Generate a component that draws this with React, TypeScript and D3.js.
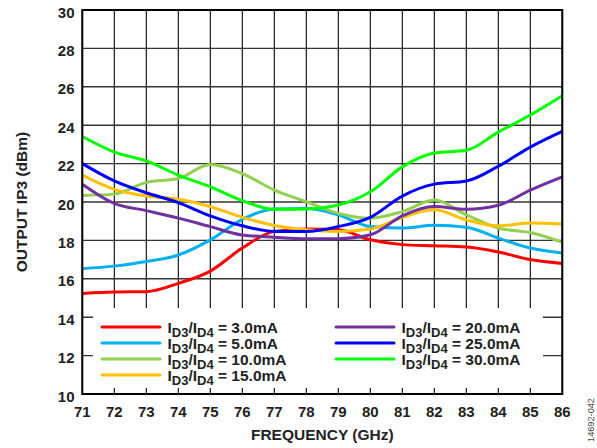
import React from "react";
import * as d3 from "d3";

const freqs = [71, 72, 73, 74, 75, 76, 77, 78, 79, 80, 81, 82, 83, 84, 85, 86];
const s3_0 = [15.24, 15.31, 15.33, 15.76, 16.4, 17.6, 18.47, 18.6, 18.55, 18.03, 17.78, 17.72, 17.66, 17.4, 17.0, 16.8];
const s5_0 = [16.53, 16.66, 16.9, 17.24, 18.03, 19.1, 19.64, 19.66, 19.33, 18.72, 18.64, 18.79, 18.69, 18.12, 17.6, 17.34];
const s10_0 = [20.34, 20.41, 21.02, 21.22, 21.95, 21.48, 20.62, 20.02, 19.41, 19.16, 19.5, 20.1, 19.33, 18.64, 18.41, 17.9];
const s15_0 = [21.4, 20.66, 20.31, 20.14, 19.76, 19.2, 18.78, 18.55, 18.47, 18.59, 19.2, 19.59, 19.07, 18.76, 18.9, 18.86];
const s20_0 = [20.93, 19.93, 19.55, 19.16, 18.72, 18.28, 18.17, 18.09, 18.09, 18.29, 19.28, 19.76, 19.62, 19.83, 20.62, 21.31];
const s25_0 = [22.0, 21.1, 20.48, 19.97, 19.28, 18.76, 18.47, 18.47, 18.72, 19.2, 20.31, 20.93, 21.09, 21.86, 22.86, 23.68];
const s30_0 = [23.41, 22.6, 22.14, 21.4, 20.79, 20.07, 19.62, 19.64, 19.84, 20.53, 21.83, 22.55, 22.69, 23.64, 24.53, 25.54];

const seriesLabels = ["3.0mA", "5.0mA", "10.0mA", "15.0mA", "20.0mA", "25.0mA", "30.0mA"];
const seriesValues = [s3_0, s5_0, s10_0, s15_0, s20_0, s25_0, s30_0];
const seriesColors = ["#ff0000", "#00b0f0", "#92d050", "#ffc000", "#7030a0", "#0000ff", "#00ff00"];

const xTicks = freqs;
const yTicks = [10, 12, 14, 16, 18, 20, 22, 24, 26, 28, 30];

const FONT = "Arial, 'Liberation Sans', sans-serif";

export default function App() {
  const W = 597, H = 448;
  const left = 82.3, right = 562.3, top = 10, bottom = 394;
  const x = d3.scaleLinear().domain([71, 86]).range([left, right]);
  const y = d3.scaleLinear().domain([10, 30]).range([bottom, top]);

  const line = d3
    .line<[number, number]>()
    .x((d) => x(d[0]))
    .y((d) => y(d[1]))
    .curve(d3.curveMonotoneX);

  const legendRect = { x0: 93, x1: 543, y0: 308, y1: 388 };

  const legendItem = (label: string, color: string, lx: number, ly: number, key: string) => (
    <g key={key}>
      <line x1={lx} x2={lx + 58} y1={ly} y2={ly} stroke={color} strokeWidth={3} strokeLinecap="round" />
      <text x={lx + 65.5} y={ly + 6} fontFamily={FONT} fontWeight="bold" fontSize={15.5} fill="#222">
        <tspan>I</tspan>
        <tspan fontSize={13} dy={4}>D3</tspan>
        <tspan dy={-4}>/I</tspan>
        <tspan fontSize={13} dy={4}>D4</tspan>
        <tspan dy={-4}>{" = " + label}</tspan>
      </text>
    </g>
  );

  return (
    <svg width={W} height={H} style={{ position: "absolute", left: 0, top: 0, background: "#fff" }}>
      <rect x={0} y={0} width={W} height={H} fill="#fff" />
      {/* grid */}
      {yTicks.map((t) => (
        <line key={"gy" + t} x1={left} x2={right} y1={y(t)} y2={y(t)} stroke="#333" strokeWidth={1.4} />
      ))}
      {xTicks.map((t) => (
        <line key={"gx" + t} x1={x(t)} x2={x(t)} y1={top} y2={bottom} stroke="#000" strokeWidth={1.1} />
      ))}
      {/* legend background */}
      <rect
        x={legendRect.x0}
        y={legendRect.y0}
        width={legendRect.x1 - legendRect.x0}
        height={legendRect.y1 - legendRect.y0}
        fill="#fff"
      />
      {/* series */}
      {seriesValues.map((vals, i) => (
        <path
          key={"s" + i}
          d={line(freqs.map((f, j) => [f, vals[j]] as [number, number])) || ""}
          fill="none"
          stroke={seriesColors[i]}
          strokeWidth={3}
          strokeLinejoin="round"
        />
      ))}
      {/* frame */}
      <rect x={left} y={top} width={right - left} height={bottom - top} fill="none" stroke="#000" strokeWidth={2} />
      {/* y tick labels */}
      {yTicks.map((t) => (
        <text
          key={"ly" + t}
          x={74.5}
          y={y(t) + 7.5}
          textAnchor="end"
          fontFamily={FONT}
          fontWeight="bold"
          fontSize={15}
          fill="#222"
        >
          {t}
        </text>
      ))}
      {/* x tick labels */}
      {xTicks.map((t) => (
        <text
          key={"lx" + t}
          x={x(t)}
          y={416.7}
          textAnchor="middle"
          fontFamily={FONT}
          fontWeight="bold"
          fontSize={15}
          fill="#222"
        >
          {t}
        </text>
      ))}
      <text
        x={(left + right) / 2}
        y={440}
        textAnchor="middle"
        fontFamily={FONT}
        fontWeight="bold"
        fontSize={15.5}
        fill="#222"
      >
        FREQUENCY (GHz)
      </text>
      <text
        transform={`translate(27, ${(top + bottom) / 2}) rotate(-90)`}
        textAnchor="middle"
        fontFamily={FONT}
        fontWeight="bold"
        fontSize={15.5}
        fill="#222"
      >
        OUTPUT IP3 (dBm)
      </text>
      {/* legend */}
      {seriesLabels.slice(0, 4).map((lab, i) =>
        legendItem(lab, seriesColors[i], 102, 327 + i * 16, "lg" + i)
      )}
      {seriesLabels.slice(4).map((lab, i) =>
        legendItem(lab, seriesColors[i + 4], 336, 327 + i * 16, "lr" + i)
      )}
      <text
        transform={`translate(594, 420) rotate(-90)`}
        textAnchor="middle"
        fontFamily={FONT}
        fontSize={9.2}
        fill="#444"
      >
        14692-042
      </text>
    </svg>
  );
}
